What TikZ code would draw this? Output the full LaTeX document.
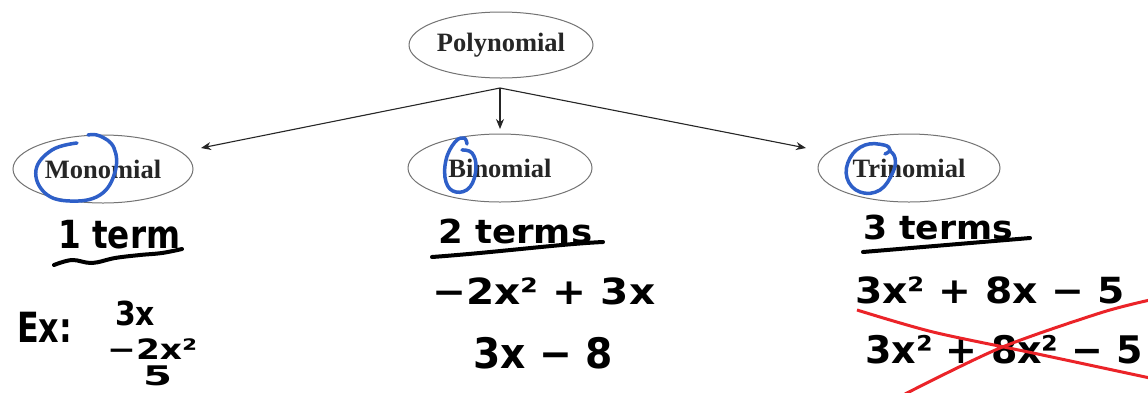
\documentclass[tikz,border=0pt]{standalone}
\usepackage{fontspec}
\usepackage{graphicx}
\setmainfont{Liberation Serif}
\newfontfamily\hand{DejaVu Sans}
\usetikzlibrary{shapes.geometric,arrows.meta}
\definecolor{penblue}{RGB}{46,95,200}
\definecolor{penred}{RGB}{235,35,40}
\newcommand\fitw[2]{\resizebox{#1}{\height}{#2}}
\newcommand\hsz[1]{\fontsize{#1}{#1}\selectfont}
\begin{document}
\begin{tikzpicture}[x=1pt,y=-1pt,
  oval/.style={draw=black!55,line width=1pt,ellipse,inner sep=0pt,
    font=\fontsize{26.5}{30}\selectfont\bfseries,text=black!85},
  arr/.style={draw=black!85,line width=1.1pt,-{Stealth[length=10pt,width=8pt]}},
  hw/.style={inner sep=0pt,anchor=base west,font=\hand\bfseries},
  pen/.style={line width=4pt,line cap=round,line join=round},
  loop/.style={draw=penblue,line width=3.5pt,line cap=round},
  cross/.style={draw=penred,line width=3pt}]
\useasboundingbox (0,0) rectangle (1148,392);
\fill[white] (0,0) rectangle (1148,392);

% ellipses
\node[oval,minimum width=184pt,minimum height=66pt] (poly) at (501,45) {Polynomial};
\node[oval,minimum width=180pt,minimum height=68pt] (mono) at (103,169) {Monomial};
\node[oval,minimum width=184pt,minimum height=68pt] (bino) at (500,168) {Binomial};
\node[oval,minimum width=182pt,minimum height=68pt] (trino) at (909,168) {Trinomial};

% connectors
\coordinate (hub) at (500,88);
\coordinate (monotip) at (201,148);
\coordinate (binotip) at (500,129);
\coordinate (trinotip) at (806,148);
\draw[arr] (hub) -- (monotip);
\draw[arr] (hub) -- (binotip);
\draw[arr] (hub) -- (trinotip);

% blue loops
\draw[loop] plot[smooth,tension=0.7] coordinates {(77,143) (52,150) (36,170) (45,193) (70,201) (100,195) (115,172) (114,148) (100,136) (88,135)};
\draw[loop] plot[smooth,tension=0.7] coordinates {(467,144) (464,138) (455,142) (446,160) (446,182) (456,192) (470,187) (476,168) (472,153) (462,150)};
\draw[loop] plot[smooth,tension=0.7] coordinates {(885,154) (890,150) (884,145) (865,145) (850,158) (847,178) (860,192) (880,190) (893,172) (895,158) (890,151)};

% Monomial column
\node[hw] (t1) at (58,248) {\hsz{31}\scalebox{1}[1.25]{\fitw{122pt}{1 term}}};
\draw[pen] plot[smooth,tension=0.6] coordinates {(54,265) (72,260) (92,263) (115,258) (140,255) (162,253) (182,249)};
\node[hw] (ex) at (17,342) {\hsz{32}\scalebox{1}[1.3]{\fitw{55pt}{Ex:}}};
\node[hw] (m1) at (115,325) {\hsz{33}\fitw{40pt}{3x}};
\node[hw] (m2) at (107,359) {\hsz{28}\fitw{90pt}{−2x²}};
\node[hw] (m3) at (143,385) {\hsz{27}\fitw{29pt}{5}};

% Binomial column
\node[hw] (t2) at (438,243) {\hsz{33}\fitw{154pt}{2 terms}};
\draw[pen] (432,257) .. controls (500,252) and (560,244) .. (603,242);
\node[hw] (b1) at (432,304) {\hsz{36}\fitw{223pt}{−2x² + 3x}};
\node[hw] (b2) at (473,368) {\hsz{42}\fitw{140pt}{3x − 8}};

% Trinomial column
\node[hw] (t3) at (863,239) {\hsz{33}\fitw{150pt}{3 terms}};
\draw[pen] (863,252) -- (1030,238);
\node[hw] (c1) at (855,303) {\hsz{36}\fitw{270pt}{3x² + 8x − 5}};
\node[hw] (c2) at (865,363) {\hsz{38}\fitw{278pt}{3x² + 8x² − 5}};
\draw[cross] plot[smooth] coordinates {(857,310) (933,332) (1033,353) (1150,378)};
\draw[cross] plot[smooth] coordinates {(905,394) (1000,348) (1100,313) (1150,300)};
\end{tikzpicture}
\end{document}
